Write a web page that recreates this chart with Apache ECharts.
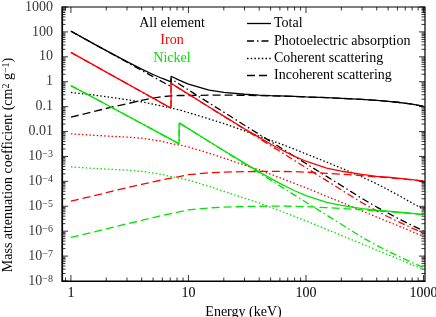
<!DOCTYPE html>
<html><head><meta charset="utf-8">
<script src="https://cdn.jsdelivr.net/npm/echarts@6/dist/echarts.min.js"></script>
<style>html,body{margin:0;padding:0;background:#fff}#c{width:436px;height:317px}</style>
</head><body><div id="c"></div>
<script>
// ---- data (keV, cm^2/g) ----
const energy = [1,1.5,2,3,4,5,6,7.112,7.112,8.333,8.333,10,15,20,30,40,50,60,80,100,150,200,300,400,500,600,800,1000];

const allTotal = [107,37.3,17.8,6.37,3.2,1.95,1.35,0.996,1.66,1.164,1.184,0.808,0.462,0.371,0.314,0.292,0.2785,0.2707,0.258,0.247,0.2308,0.2154,0.1952,0.1781,0.1631,0.150,0.127,0.1031];
const allPhoto = [106.6,36.97,17.46,6.05,2.86,1.60,0.991,0.638,1.3,0.81,0.83,0.47,0.14,0.06,0.018,0.0077,0.004,0.00235,1.0e-3,5.2e-4,1.58e-4,6.8e-5,2.05e-5,9.3e-6,5.3e-6,3.35e-6,1.7e-6,1.03e-6];
const allCoh   = [0.37,0.30,0.25,0.19,0.155,0.125,0.105,0.088,0.088,0.074,0.074,0.058,0.032,0.021,0.0107,0.0066,0.0045,0.0033,0.00195,0.00128,5.9e-4,3.4e-4,1.5e-4,8.0e-5,4.6e-5,2.9e-5,1.35e-5,7.5e-6];
const allIncoh = [0.038,0.06,0.085,0.13,0.18,0.22,0.25,0.27,0.27,0.28,0.28,0.28,0.29,0.29,0.285,0.278,0.27,0.265,0.255,0.245,0.23,0.215,0.195,0.178,0.163,0.15,0.127,0.103];

const feTotal = [15.0,5.19,2.44,0.842,0.396,0.221,0.137,0.088,0.8634,0.542,0.542,0.3173,0.0967,0.0418,0.01302,0.00581,0.003175,0.00199,1.011e-3,6.43e-4,3.42e-4,2.55e-4,1.9e-4,1.6e-4,1.46e-4,1.34e-4,1.17e-4,1.03e-4];
const fePhoto = [14.99,5.18,2.43,0.836,0.39,0.216,0.133,0.0846,0.86,0.539,0.539,0.3147,0.0951,0.0407,0.01232,0.00527,0.00273,0.0016,6.83e-4,3.53e-4,1.067e-4,4.57e-5,1.38e-5,6.5e-6,3.8e-6,2.5e-6,1.33e-6,8.3e-7];
const feCoh   = [0.0081,0.0072,0.0066,0.0060,0.0054,0.0046,0.0040,0.0033,0.0033,0.0029,0.0029,0.0024,0.00135,8.6e-4,4.5e-4,2.9e-4,1.95e-4,1.4e-4,8.3e-5,5.5e-5,2.5e-5,1.45e-5,6.5e-6,3.7e-6,2.4e-6,1.7e-6,9.6e-7,6.2e-7];
const feIncoh = [1.6e-5,2.5e-5,3.5e-5,5.6e-5,7.6e-5,9.6e-5,1.15e-4,1.35e-4,1.35e-4,1.55e-4,1.55e-4,1.85e-4,2.2e-4,2.35e-4,2.45e-4,2.5e-4,2.5e-4,2.5e-4,2.45e-4,2.35e-4,2.1e-4,1.95e-4,1.7e-4,1.5e-4,1.4e-4,1.3e-4,1.15e-4,1.02e-4];

const niTotal = [0.70,0.251,0.1213,0.0434,0.021,0.01198,0.00753,0.00488,0.00488,0.0033,0.02234,0.01309,0.00399,0.00173,5.38e-4,2.41e-4,1.32e-4,8.27e-5,4.2e-5,2.68e-5,1.44e-5,1.08e-5,8.08e-6,6.94e-6,6.37e-6,5.88e-6,5.2e-6,4.66e-6];
const niPhoto = [0.6996,0.2507,0.121,0.0431,0.0207,0.01176,0.00734,0.00472,0.00472,0.00316,0.0222,0.01297,0.00392,0.00168,5.07e-4,2.17e-4,1.124e-4,6.6e-5,2.81e-5,1.454e-5,4.4e-6,1.89e-6,5.7e-7,2.7e-7,1.58e-7,1.04e-7,5.5e-8,3.45e-8];
const niCoh   = [3.8e-4,3.38e-4,3.1e-4,2.82e-4,2.54e-4,2.16e-4,1.88e-4,1.55e-4,1.55e-4,1.36e-4,1.36e-4,1.13e-4,6.3e-5,4.0e-5,2.1e-5,1.36e-5,9.2e-6,6.6e-6,3.9e-6,2.6e-6,1.18e-6,6.8e-7,3.1e-7,1.74e-7,1.13e-7,8.0e-8,4.5e-8,2.9e-8];
const niIncoh = [5.6e-7,8.8e-7,1.23e-6,1.98e-6,2.7e-6,3.5e-6,4.3e-6,5.1e-6,5.1e-6,5.9e-6,5.9e-6,7.2e-6,8.6e-6,9.3e-6,9.8e-6,1.0e-5,1.01e-5,1.01e-5,1.0e-5,9.7e-6,8.8e-6,8.2e-6,7.2e-6,6.5e-6,6.1e-6,5.7e-6,5.1e-6,4.6e-6];

const xTickValues = [1,10,100,1000];
const xTickLabels = ['1','10','100','1000'];
const xMinorTicks = [0.9,2,3,4,5,6,7,8,9,20,30,40,50,60,70,80,90,200,300,400,500,600,700,800,900];
const yTickValues = [1e-8,1e-7,1e-6,1e-5,1e-4,1e-3,1e-2,0.1,1,10,100,1000];
const yTickLabels = ['10{s|−8}','10{s|−7}','10{s|−6}','10{s|−5}','10{s|−4}','10{s|−3}','0.01','0.1','1','10','100','1000'];
const yMinorMultipliers = [2,3,4,5,6,7,8,9];

const groupNames = ['All element','Iron','Nickel'];
const groupColors = ['#000000','#ff0000','#00e400'];
const legendNames = ['Total','Photoelectric absorption','Coherent scattering','Incoherent scattering'];

// ---- setup ----
const X_MIN = 0.84, X_MAX = 1030, Y_MIN = 1e-8, Y_MAX = 1000;
const FONT = "'Liberation Serif', 'Times New Roman', serif";
const FS = 14;
const dashes = ['solid',[7,3,1.5,3],[1.5,2.2],[8,4]];
const LW = 1.3;

function pairs(vals){ return energy.map((e,i)=>[e, vals[i]]); }
function matchTick(v, vals){
  const lv = Math.log10(v);
  for (let i=0;i<vals.length;i++){ if (Math.abs(lv - Math.log10(vals[i])) < 1e-6) return i; }
  return -1;
}

const groups = [
  [allTotal, allPhoto, allCoh, allIncoh],
  [feTotal, fePhoto, feCoh, feIncoh],
  [niTotal, niPhoto, niCoh, niIncoh]
];
const series = [];
groups.forEach((g, gi) => {
  g.forEach((vals, si) => {
    series.push({
      type:'line', name: groupNames[gi]+' '+legendNames[si], data: pairs(vals),
      showSymbol:false, symbol:'none', smooth:false, animation:false, z: 3,
      lineStyle:{color: groupColors[gi], width: LW, type: dashes[si], cap:'butt'}
    });
  });
});

// tick marks (inside, on all four sides) placed through the axes' scales
const MAJ = 6, MIN = 3.5;
const tickItems = [];
function xt(v, len){
  tickItems.push({value:[v, Y_MIN], symbolSize:[1, len], symbolOffset:[0, -len/2]});
  tickItems.push({value:[v, Y_MAX], symbolSize:[1, len], symbolOffset:[0, len/2]});
}
function yt(v, len){
  tickItems.push({value:[X_MIN, v], symbolSize:[len, 1], symbolOffset:[len/2, 0]});
  tickItems.push({value:[X_MAX, v], symbolSize:[len, 1], symbolOffset:[-len/2, 0]});
}
xTickValues.forEach(v => xt(v, MAJ));
xMinorTicks.forEach(v => xt(v, MIN));
yTickValues.forEach(v => yt(v, MAJ));
yTickValues.slice(0, -1).forEach(d => yMinorMultipliers.forEach(k => yt(k*d, MIN)));

series.push({
  type:'scatter', name:'ticks', data: tickItems, symbol:'rect', clip:false, silent:true,
  animation:false, z:6, itemStyle:{color:'#000'}
});

// y tick labels, anchored at the axis through its scale
series.push({
  type:'scatter', name:'ylabels', clip:false, silent:true, animation:false, z:6,
  symbol:'circle', symbolSize:0, itemStyle:{color:'rgba(0,0,0,0)'},
  data: yTickValues.map((v,i) => ({value:[X_MIN, v], label:{formatter: yTickLabels[i]}})),
  label:{show:true, position:'left', distance:9, color:'#000', fontFamily:FONT, fontSize:FS, lineHeight:14,
    rich:{s:{fontFamily:FONT, fontSize:10, verticalAlign:'top', lineHeight:8, color:'#000'}}}
});

// legend / annotation graphics
const graphics = [];
const rowY = [23.5, 41, 58.5, 75.5];
legendNames.forEach((n, i) => {
  graphics.push({type:'line', silent:true, shape:{x1:247,y1:rowY[i],x2:271,y2:rowY[i]},
    style:{stroke:'#000', lineWidth:LW, lineDash: i===0 ? null : dashes[i]}});
  graphics.push({type:'text', silent:true, x:274, y:rowY[i],
    style:{text:n, fontFamily:FONT, fontSize:FS, fill:'#000', align:'left', verticalAlign:'middle'}});
});
groupNames.forEach((n, i) => {
  graphics.push({type:'text', silent:true, x:172, y:[23.5,40.5,58][i],
    style:{text:n, fontFamily:FONT, fontSize:FS, fill:groupColors[i], align:'center', verticalAlign:'middle'}});
});

const chart = echarts.init(document.getElementById('c'), null, {renderer:'canvas'});
chart.setOption({
  animation:false,
  backgroundColor:'#fff',
  textStyle:{fontFamily:FONT},
  grid:{left:62, right:11, top:7, bottom:36, containLabel:false, outerBoundsMode:'none',
    show:true, borderColor:'#000', borderWidth:1.2, backgroundColor:'transparent'},
  xAxis:{
    type:'log', logBase:10, min:X_MIN, max:X_MAX,
    name:'Energy (keV)', nameLocation:'middle', nameGap:18,
    nameTextStyle:{fontFamily:FONT, fontSize:FS, color:'#000'},
    axisLine:{show:true, lineStyle:{color:'#000', width:1.2}},
    axisTick:{show:false}, splitLine:{show:false}, minorTick:{show:false},
    axisLabel:{fontFamily:FONT, fontSize:FS, color:'#000', margin:5,
      formatter:(v)=>{ const i = matchTick(v, xTickValues); return i<0 ? '' : xTickLabels[i]; }}
  },
  yAxis:{
    type:'log', logBase:10, min:Y_MIN, max:Y_MAX,
    name:'Mass attenuation coefficient (cm{s|2} g{s|−1})', nameLocation:'middle', nameRotate:90, nameGap:47,
    nameTextStyle:{fontFamily:FONT, fontSize:FS, color:'#000', padding:[0,42,0,0],
      rich:{s:{fontFamily:FONT, fontSize:10, verticalAlign:'top', lineHeight:9}}},
    axisLine:{show:true, lineStyle:{color:'#000', width:1.2}},
    axisTick:{show:false}, splitLine:{show:false}, minorTick:{show:false},
    axisLabel:{show:false}
  },
  graphic: graphics,
  series: series
});
</script></body></html>
